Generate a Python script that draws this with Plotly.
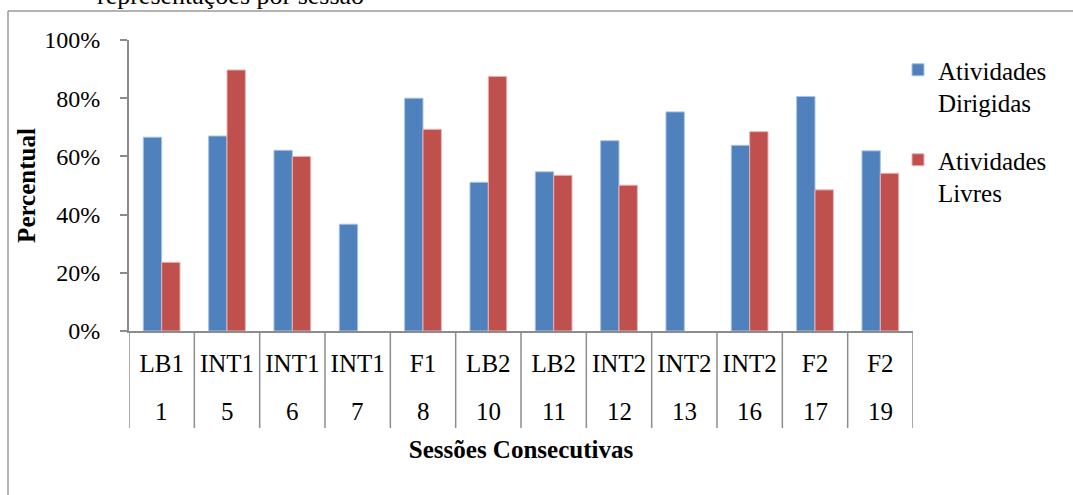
import plotly.graph_objects as go

# Sessions (outer row) and their phase labels (row next to the axis)
sessoes = ["1", "5", "6", "7", "8", "10", "11", "12", "13", "16", "17", "19"]
fases = ["LB1", "INT1", "INT1", "INT1", "F1", "LB2", "LB2", "INT2", "INT2", "INT2", "F2", "F2"]

# Percentage of representations per session
dirigidas = [66.6, 67.0, 62.1, 36.7, 80.0, 51.1, 54.7, 65.4, 75.3, 63.8, 80.6, 61.9]
livres = [23.6, 89.7, 60.0, None, 69.3, 87.5, 53.5, 50.1, None, 68.5, 48.5, 54.2]

y_ticks = [0, 20, 40, 60, 80, 100]

FONT = '"Liberation Serif", "Times New Roman", serif'
W, H = 1073, 495
L, R, T, B = 129, 160, 40, 164
PW, PH = W - L - R, H - T - B


def px_x(x):
    return (x - L) / PW


def px_y(y):
    return (H - B - y) / PH


fig = go.Figure()
fig.add_trace(go.Bar(
    x=sessoes, y=dirigidas, name="Atividades<br>Dirigidas",
    marker=dict(color="#4F81BD", line=dict(color="#A9C3E3", width=1)),
    legendgroup="d",
))
fig.add_trace(go.Bar(
    x=sessoes, y=livres, name="Atividades<br>Livres",
    marker=dict(color="#C0504D", line=dict(color="#E8B4B3", width=1)),
    legendgroup="l",
))

axis_gray = "#8C8C8C"

# vertical dividers between categories, spanning both label rows
dividers = [
    dict(type="line", xref="x", yref="paper",
         x0=i - 0.5, x1=i - 0.5, y0=0, y1=px_y(428),
         line=dict(color=axis_gray, width=1.5))
    for i in range(len(sessoes) + 1)
]

# outer frame of the chart area (top and left edges)
frame = [
    dict(type="line", xref="paper", yref="paper",
         x0=px_x(8), x1=px_x(1080), y0=px_y(11), y1=px_y(11),
         line=dict(color="#9A9A9A", width=1.5)),
    dict(type="line", xref="paper", yref="paper",
         x0=px_x(8), x1=px_x(8), y0=px_y(11), y1=px_y(500),
         line=dict(color="#9A9A9A", width=1.5)),
]

# second row of category labels: session numbers (placed by category index)
session_labels = [
    dict(text=s, xref="x", yref="paper", x=i, y=px_y(412),
         xanchor="center", yanchor="middle", showarrow=False,
         font=dict(family=FONT, size=25, color="black"))
    for i, s in enumerate(sessoes)
]

fig.update_layout(
    width=W, height=H,
    margin=dict(l=L, r=R, t=T, b=B, autoexpand=False),
    paper_bgcolor="white", plot_bgcolor="white",
    barmode="group", bargap=0.438, bargroupgap=0,
    font=dict(family=FONT, size=25, color="black"),
    showlegend=True,
    legend=dict(
        x=px_x(898), y=px_y(47), xanchor="left", yanchor="top",
        font=dict(family=FONT, size=25, color="black"),
        valign="top", tracegroupgap=22, traceorder="grouped",
        bgcolor="rgba(0,0,0,0)",
    ),
    xaxis=dict(
        type="category",
        range=[-0.5, len(sessoes) - 0.5],
        tickvals=sessoes, ticktext=fases,
        showline=True, linecolor=axis_gray, linewidth=2,
        showgrid=False, zeroline=False,
        ticks="", ticklabelstandoff=9,
        tickfont=dict(family=FONT, size=25, color="black"),
        title=dict(text="<b>Sessões Consecutivas</b>",
                   font=dict(family=FONT, size=25, color="black"), standoff=64),
        automargin=False,
    ),
    yaxis=dict(
        range=[0, 100], tickvals=y_ticks, ticktext=[f"{v}%" for v in y_ticks],
        showline=True, linecolor=axis_gray, linewidth=2,
        showgrid=False, zeroline=False,
        ticks="outside", ticklen=7, tickcolor=axis_gray, tickwidth=1.5,
        ticklabelstandoff=15,
        tickfont=dict(family=FONT, size=24, color="black"),
        title=dict(text="<b>Percentual</b>",
                   font=dict(family=FONT, size=25, color="black"), standoff=1),
        automargin=False,
    ),
    shapes=dividers + frame,
    annotations=session_labels + [
        dict(text="representações por sessão", xref="paper", yref="paper",
             x=px_x(95), y=px_y(12), xanchor="left", yanchor="bottom",
             showarrow=False, font=dict(family=FONT, size=26, color="black")),
    ],
)

fig.write_html("out.html")
